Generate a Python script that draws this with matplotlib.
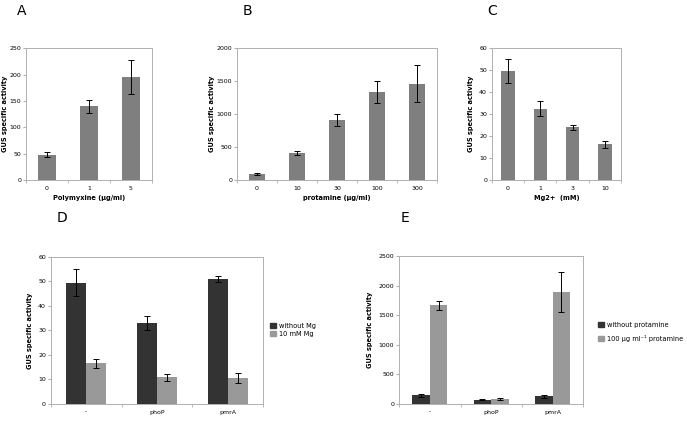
import numpy as np
import matplotlib
matplotlib.use("Agg")
import matplotlib.pyplot as plt
from matplotlib.patches import Patch

# panel A
poly_labels = ["0", "1", "5"]
poly_vals = [48, 140, 196]
poly_err = [5, 12, 32]

# panel B
prot_labels = ["0", "10", "30", "100", "300"]
prot_vals = [100, 410, 910, 1340, 1465]
prot_err = [15, 25, 90, 170, 275]

# panel C
mg_labels = ["0", "1", "3", "10"]
mg_vals = [49.5, 32.5, 24, 16.3]
mg_err = [5.5, 3.3, 1.2, 1.5]

# panel D
strains = ["-", "phoP", "pmrA"]
d_noMg = [49.5, 33, 51]
d_noMg_err = [5.5, 3, 1.2]
d_Mg = [16.5, 10.8, 10.5]
d_Mg_err = [1.7, 1.3, 2]

# panel E
e_noprot = [145, 75, 130]
e_noprot_err = [25, 10, 25]
e_prot = [1665, 80, 1890]
e_prot_err = [75, 15, 335]

single_col = "#7f7f7f"
dark_col = "#333333"
light_col = "#999999"
frame_col = "#b0b0b0"

plt.rcParams["font.family"] = "DejaVu Sans"

fig = plt.figure(figsize=(6.87, 4.23), dpi=100)


def style_axes(ax, labels, ymax, step, lpad):
    n = len(labels)
    ax.set_xlim(-0.5, n - 0.5)
    ax.set_ylim(0, ymax)
    ax.set_yticks(np.arange(0, ymax + step / 2, step))
    ax.set_xticks(range(n))
    ax.set_xticklabels(labels)
    ax.set_xticks(np.arange(-0.5, n, 1.0), minor=True)
    ax.tick_params(axis="x", which="major", length=0, labelsize=4.5, pad=4)
    ax.tick_params(axis="x", which="minor", length=2, color=frame_col)
    ax.tick_params(axis="y", length=2, color=frame_col, labelsize=4.5, pad=1.5)
    for s in ax.spines.values():
        s.set_color(frame_col)
        s.set_linewidth(0.7)
    ax.set_ylabel("GUS specific activity", fontsize=4.8, fontweight="bold", labelpad=lpad)


def single_panel(pos, labels, vals, errs, ymax, step, xlabel, letter, letter_x, lpad):
    ax = fig.add_axes(pos)
    x = np.arange(len(labels))
    ax.bar(x, vals, width=0.42, color=single_col, yerr=errs,
           error_kw=dict(ecolor="black", elinewidth=0.7, capsize=2, capthick=0.7))
    style_axes(ax, labels, ymax, step, lpad)
    ax.set_xlabel(xlabel, fontsize=4.8, fontweight="bold", labelpad=3)
    fig.text(letter_x, 0.975, letter, fontsize=10, va="center", ha="center")
    return ax


single_panel([0.038, 0.574, 0.183, 0.312], poly_labels, poly_vals, poly_err,
             250, 50, "Polymyxine (µg/ml)", "A", 0.032, 1)
single_panel([0.345, 0.574, 0.291, 0.312], prot_labels, prot_vals, prot_err,
             2000, 500, "protamine (µg/ml)", "B", 0.36, 1)
single_panel([0.716, 0.574, 0.188, 0.312], mg_labels, mg_vals, mg_err,
             60, 10, "Mg2+  (mM)", "C", 0.717, 4)


def group_panel(pos, a, a_err, b, b_err, ymax, step, leg_labels, leg_pos, lspace,
                letter, letter_x):
    ax = fig.add_axes(pos)
    x = np.arange(len(strains))
    w = 0.285
    ekw = dict(ecolor="black", elinewidth=0.7, capsize=2, capthick=0.7)
    ax.bar(x - w / 2, a, width=w, color=dark_col, yerr=a_err, error_kw=ekw)
    ax.bar(x + w / 2, b, width=w, color=light_col, yerr=b_err, error_kw=ekw)
    style_axes(ax, strains, ymax, step, 4)
    handles = [Patch(color=dark_col), Patch(color=light_col)]
    fig.legend(handles, leg_labels, loc="center left", bbox_to_anchor=leg_pos,
               fontsize=4.8, frameon=False, handlelength=0.8, handleheight=0.8,
               handletextpad=0.5, labelspacing=lspace)
    fig.text(letter_x, 0.485, letter, fontsize=10, va="center", ha="center")
    return ax


group_panel([0.074, 0.045, 0.309, 0.348], d_noMg, d_noMg_err, d_Mg, d_Mg_err,
            60, 10, ["without Mg", "10 mM Mg"], (0.385, 0.22), 0.3, "D", 0.09)
group_panel([0.581, 0.045, 0.268, 0.350], e_noprot, e_noprot_err, e_prot, e_prot_err,
            2500, 500, ["without protamine", "100 µg ml⁻¹ protamine"],
            (0.862, 0.215), 1.0, "E", 0.59)

plt.savefig("out.png", dpi=100)
